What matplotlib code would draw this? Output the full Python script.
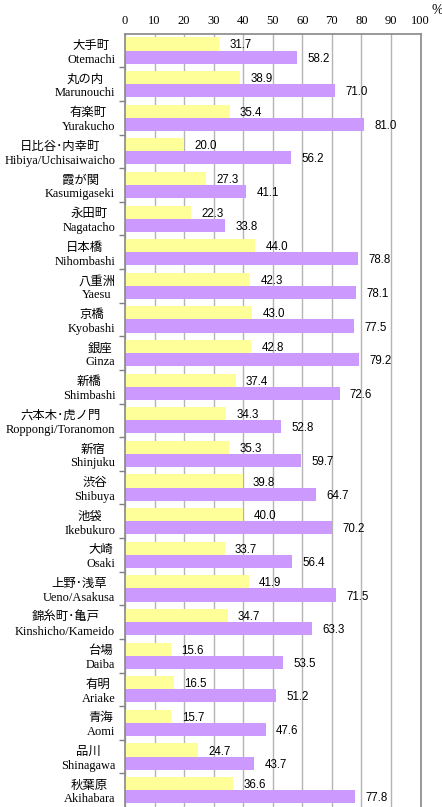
import matplotlib.pyplot as plt
import numpy as np

# Districts (Japanese / romanized) and the two survey percentages
names_jp = ["大手町", "丸の内", "有楽町", "日比谷･内幸町", "霞が関", "永田町",
            "日本橋", "八重洲", "京橋", "銀座", "新橋", "六本木･虎ノ門",
            "新宿", "渋谷", "池袋", "大崎", "上野･浅草", "錦糸町･亀戸",
            "台場", "有明", "青海", "品川", "秋葉原"]
names_en = ["Otemachi", "Marunouchi", "Yurakucho", "Hibiya/Uchisaiwaicho",
            "Kasumigaseki", "Nagatacho", "Nihombashi", "Yaesu", "Kyobashi",
            "Ginza", "Shimbashi", "Roppongi/Toranomon", "Shinjuku", "Shibuya",
            "Ikebukuro", "Osaki", "Ueno/Asakusa", "Kinshicho/Kameido", "Daiba",
            "Ariake", "Aomi", "Shinagawa", "Akihabara"]
yellow_vals = [31.7, 38.9, 35.4, 20.0, 27.3, 22.3, 44.0, 42.3, 43.0, 42.8,
               37.4, 34.3, 35.3, 39.8, 40.0, 33.7, 41.9, 34.7, 15.6, 16.5,
               15.7, 24.7, 36.6]
purple_vals = [58.2, 71.0, 81.0, 56.2, 41.1, 33.8, 78.8, 78.1, 77.5, 79.2,
               72.6, 52.8, 59.7, 64.7, 70.2, 56.4, 71.5, 63.3, 53.5, 51.2,
               47.6, 43.7, 77.8]
x_ticks = [0, 10, 20, 30, 40, 50, 60, 70, 80, 90, 100]

serif = ["Liberation Serif", "Noto Sans CJK JP"]
yellow = "#FFFF99"
purple = "#CC99FF"

fig = plt.figure(figsize=(4.42, 8.07), dpi=100)
ax = fig.add_axes([125 / 442, 0.0, 295.5 / 442, 1 - 33.7 / 807])

n = len(names_en)
y = np.arange(n)
h = 0.39
ax.barh(y - h / 2, yellow_vals, height=h, color=yellow, zorder=2)
ax.barh(y + h / 2, purple_vals, height=h, color=purple, zorder=2)

# value labels to the right of each bar
for yi, v in zip(y, yellow_vals):
    ax.annotate(f"{v:.1f}", (v, yi - h / 2), xytext=(7.5, 0), textcoords="offset points",
                va="center_baseline", ha="left", fontsize=8.3, family="Liberation Sans")
for yi, v in zip(y, purple_vals):
    ax.annotate(f"{v:.1f}", (v, yi + h / 2), xytext=(7.5, 0), textcoords="offset points",
                va="center_baseline", ha="left", fontsize=8.3, family="Liberation Sans")

ax.set_xlim(0, 100)
ax.set_ylim(n - 0.5, -0.5)
ax.xaxis.tick_top()
ax.set_xticks(x_ticks)
ax.set_xticklabels([str(t) for t in x_ticks], family=serif, fontsize=9)
ax.tick_params(axis="x", length=0, pad=5)
ax.grid(axis="x", color="#b4b4b4", linewidth=1.0, zorder=0)
ax.set_axisbelow(True)

ax.set_yticks(y)
ax.set_yticklabels([f"{jp}\n{en}" for jp, en in zip(names_jp, names_en)],
                   family=serif, fontsize=8.9, linespacing=1.2,
                   multialignment="center")
ax.tick_params(axis="y", length=0, pad=7)
ax.set_yticks(np.arange(n - 1) + 0.5, minor=True)
ax.tick_params(axis="y", which="minor", length=4, color="#808080", width=1)

for side in ["left", "top", "right"]:
    ax.spines[side].set_color("#888888")
    ax.spines[side].set_linewidth(1.2)
ax.spines["bottom"].set_visible(False)

fig.text(437 / 442, 1 - 11 / 807, "%", family=serif, fontsize=10, ha="center", va="center")

fig.savefig("out.png", dpi=100)
